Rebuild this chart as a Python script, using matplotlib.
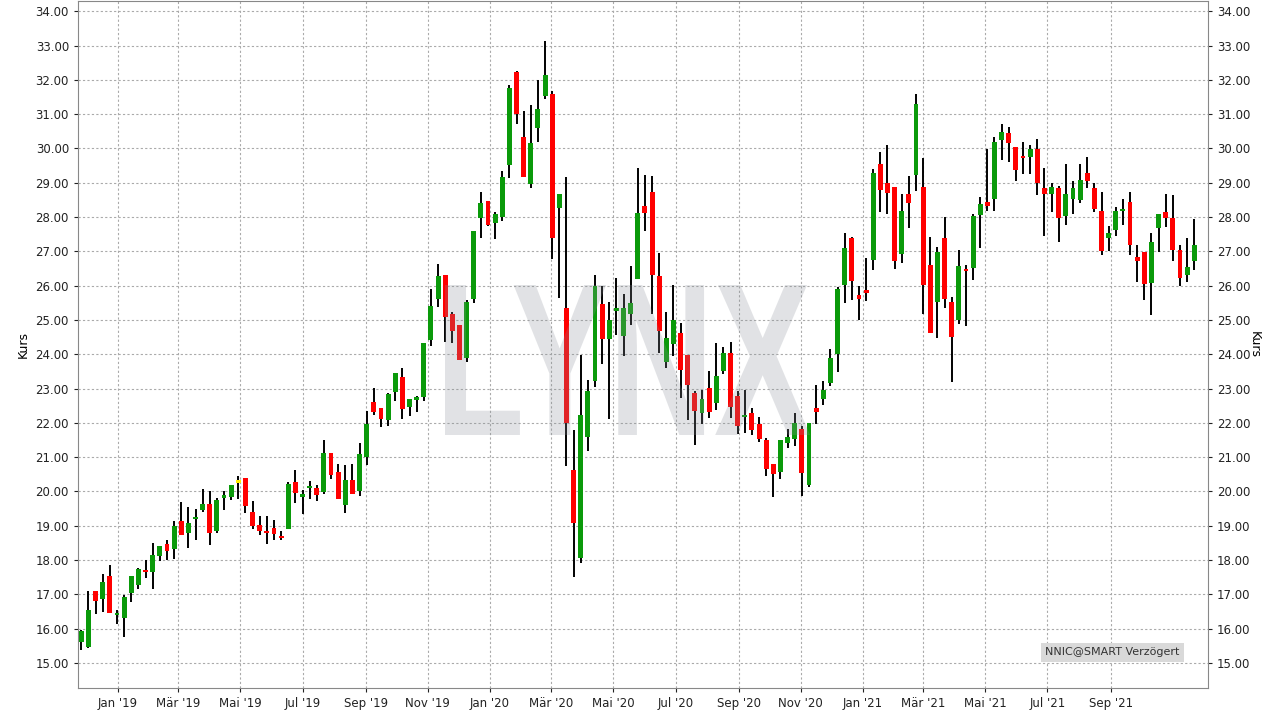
import numpy as np
import pandas as pd
import matplotlib

matplotlib.use("Agg")
import matplotlib.pyplot as plt
import matplotlib.dates as mdates
from matplotlib.textpath import TextPath
from matplotlib.patches import PathPatch
from matplotlib.font_manager import FontProperties
from matplotlib.transforms import Affine2D

# weekly candles, starting Monday 2018-11-26
first_week = "2018-11-26"
opens = [
    15.61, 15.47, 17.1, 16.86, 17.54, 16.4, 16.31, 17.05, 17.28, 17.71,
    17.66, 18.13, 18.47, 18.31, 19.15, 18.8, 19.21, 19.47, 19.64, 18.86,
    19.82, 19.85, 20.26, 20.4, 19.41, 19.03, 18.82, 18.94, 18.68, 18.92,
    20.29, 19.85, 20.1, 20.1, 19.99, 21.11, 20.56, 19.6, 20.33, 20.02,
    21.0, 22.62, 22.42, 22.07, 22.91, 23.35, 22.46, 22.66, 22.75, 24.43,
    25.6, 26.31, 25.18, 24.86, 23.88, 25.6, 27.96, 28.47, 27.84, 28.0,
    29.53, 32.22, 30.33, 28.95, 30.6, 31.54, 31.58, 28.27, 25.36, 20.62,
    18.05, 21.59, 23.22, 25.48, 24.44, 25.25, 24.53, 25.17, 26.19, 28.33,
    28.73, 26.29, 23.77, 24.29, 24.63, 23.99, 22.86, 22.29, 23.03, 22.58,
    23.51, 24.05, 22.79, 22.17, 22.28, 21.96, 21.5, 20.79, 20.56, 21.42,
    21.53, 21.81, 20.18, 22.44, 22.69, 23.16, 24.01, 26.01, 27.38, 25.74,
    25.86, 26.74, 29.55, 29.0, 28.89, 26.92, 28.68, 29.22, 28.89, 26.59,
    25.52, 27.4, 25.51, 25.01, 26.49, 26.51, 28.05, 28.45, 28.52, 30.26,
    30.46, 30.05, 29.76, 29.76, 29.98, 28.85, 28.68, 28.85, 28.03, 28.54,
    28.51, 29.28, 28.85, 28.18, 27.4, 27.61, 28.19, 28.44, 26.84, 26.99,
    26.09, 27.69, 28.15, 27.97, 27.04, 26.3, 26.71,
]
highs = [
    15.96, 17.1, 17.1, 17.6, 17.86, 16.54, 16.98, 17.54, 17.76, 18.0,
    18.5, 18.41, 18.59, 19.15, 19.68, 19.54, 19.5, 20.08, 20.02, 19.82,
    20.02, 20.2, 20.46, 20.4, 19.73, 19.29, 19.29, 19.18, 18.85, 20.27,
    20.64, 20.04, 20.3, 20.2, 21.49, 21.11, 20.79, 20.77, 20.79, 21.41,
    22.36, 23.03, 22.42, 22.87, 23.44, 23.61, 22.71, 22.77, 24.34, 25.9,
    26.62, 26.31, 25.24, 24.86, 25.58, 27.6, 28.74, 28.47, 28.15, 29.34,
    31.84, 32.25, 31.08, 31.27, 31.99, 33.12, 31.67, 28.68, 29.18, 21.79,
    23.97, 23.24, 26.32, 26.0, 25.52, 26.21, 25.75, 26.56, 29.43, 29.23,
    29.2, 26.94, 25.24, 26.03, 24.92, 23.99, 22.93, 22.95, 23.5, 24.32,
    24.22, 24.37, 22.93, 22.97, 22.42, 22.16, 21.56, 20.79, 21.5, 21.83,
    22.28, 21.92, 21.99, 23.09, 23.22, 24.14, 25.96, 27.55, 27.41, 25.98,
    26.8, 29.41, 29.91, 30.11, 28.89, 28.68, 29.21, 31.59, 29.71, 27.41,
    27.12, 27.99, 25.68, 27.05, 26.59, 28.1, 28.59, 29.99, 30.34, 30.7,
    30.63, 30.05, 30.19, 30.1, 30.27, 29.42, 28.99, 28.92, 29.54, 29.04,
    29.54, 29.75, 29.0, 28.73, 27.74, 28.28, 28.53, 28.73, 27.19, 26.99,
    27.54, 28.09, 28.67, 28.64, 27.19, 27.39, 27.95,
]
lows = [
    15.37, 15.45, 16.42, 16.48, 16.46, 16.13, 15.76, 16.78, 17.17, 17.49,
    17.17, 17.96, 17.99, 18.03, 18.72, 18.34, 18.59, 19.39, 18.45, 18.78,
    19.45, 19.76, 19.79, 19.37, 18.9, 18.74, 18.48, 18.59, 18.59, 18.92,
    19.65, 19.34, 19.78, 19.73, 19.94, 20.37, 19.79, 19.38, 19.92, 19.88,
    20.78, 22.23, 21.88, 21.9, 22.65, 22.11, 22.2, 22.31, 22.65, 24.25,
    25.39, 24.35, 24.32, 23.82, 23.77, 25.5, 27.39, 27.73, 27.35, 27.9,
    29.13, 30.7, 29.18, 28.84, 30.2, 31.45, 26.77, 25.63, 20.75, 17.51,
    17.9, 21.18, 23.06, 23.71, 22.12, 24.55, 23.95, 24.85, 26.19, 27.6,
    25.16, 24.05, 23.6, 23.94, 22.72, 22.08, 21.35, 21.97, 22.15, 22.37,
    23.43, 22.14, 21.68, 21.71, 21.64, 21.44, 20.46, 19.83, 20.35, 21.27,
    21.33, 19.88, 20.14, 21.96, 22.52, 23.08, 23.48, 25.49, 25.57, 25.01,
    25.55, 26.45, 28.16, 28.08, 26.48, 26.67, 27.67, 28.77, 25.18, 24.62,
    24.47, 25.36, 23.19, 24.88, 24.82, 26.18, 27.09, 28.17, 28.17, 29.67,
    29.61, 29.04, 29.26, 29.26, 28.65, 27.46, 28.16, 27.26, 27.78, 28.08,
    28.42, 28.86, 28.16, 26.88, 27.02, 27.46, 27.78, 26.88, 26.12, 25.57,
    25.14, 26.99, 27.72, 26.71, 26.0, 26.12, 26.47,
]
closes = [
    15.93, 16.54, 16.8, 17.36, 16.46, 16.45, 16.92, 17.54, 17.74, 17.66,
    18.15, 18.41, 18.25, 19.0, 18.72, 19.08, 19.25, 19.64, 18.78, 19.76,
    19.91, 20.2, 20.26, 19.57, 18.98, 18.86, 18.78, 18.75, 18.63, 20.23,
    19.95, 19.94, 20.16, 19.9, 21.11, 20.49, 19.79, 20.33, 19.92, 21.08,
    21.96, 22.31, 22.11, 22.83, 23.44, 22.39, 22.71, 22.74, 24.34, 25.41,
    26.28, 25.1, 24.67, 23.82, 25.53, 27.6, 28.4, 27.78, 28.1, 29.17,
    31.75, 31.0, 29.18, 30.16, 31.15, 32.14, 27.4, 28.68, 22.0, 19.08,
    22.22, 22.92, 26.0, 24.44, 25.01, 25.36, 25.36, 25.5, 28.12, 28.13,
    26.3, 24.69, 24.46, 25.0, 23.54, 23.1, 22.34, 22.71, 22.32, 23.38,
    24.05, 22.46, 21.91, 22.22, 21.79, 21.53, 20.65, 20.51, 21.5, 21.58,
    21.99, 20.53, 21.99, 22.32, 22.97, 23.88, 25.89, 27.09, 26.13, 25.61,
    25.78, 29.29, 28.8, 28.69, 26.72, 28.19, 28.4, 31.3, 26.01, 24.62,
    26.99, 25.61, 24.5, 26.56, 26.44, 28.04, 28.39, 28.31, 30.19, 30.49,
    30.15, 29.36, 29.71, 29.98, 29.0, 28.68, 28.88, 27.98, 28.67, 28.85,
    29.08, 29.05, 28.25, 27.0, 27.54, 28.18, 28.24, 27.2, 26.71, 26.04,
    27.28, 28.09, 27.98, 27.05, 26.23, 26.55, 27.19,
]
tick_months = pd.date_range("2019-01-01", "2021-09-01", freq="2MS")
month_names = {1: "Jan", 3: "Mär", 5: "Mai", 7: "Jul", 9: "Sep", 11: "Nov"}
tick_labels = [f"{month_names[d.month]} '{d.strftime('%y')}" for d in tick_months]
y_ticks = np.arange(15, 35, 1)

dates = pd.date_range(first_week, periods=len(opens), freq="7D")
xd = mdates.date2num(dates.to_pydatetime())
o, h, l, c = (np.array(a) for a in (opens, highs, lows, closes))
colors = np.where(c > o, "#0a9a0a", np.where(c < o, "#ff0000", "#ffee00"))

fig = plt.figure(figsize=(12.81, 7.21), dpi=100)
ax = fig.add_axes([78 / 1281, 33 / 721, 1130 / 1281, 687 / 721])

ax.vlines(xd, l, h, color="black", linewidth=1.4, zorder=2)
body = np.maximum(np.abs(c - o), 0.06)
ax.bar(xd, body, bottom=np.minimum(o, c), width=4.8, color=colors, linewidth=0, zorder=3)

ax.set_xlim(xd[0] - 3.3, xd[-1] + 13.5)
ax.set_ylim(14.27, 34.3)
ax.set_yticks(y_ticks)
ax.yaxis.set_major_formatter(matplotlib.ticker.FormatStrFormatter("%.2f"))
ax.set_xticks(mdates.date2num(tick_months.to_pydatetime()))
ax.set_xticklabels(tick_labels)
ax.tick_params(labelsize=8.5, colors="#222222", length=3, right=True, labelright=True)
ax.grid(True, linestyle=(0, (2, 2)), color="#aaaaaa", linewidth=0.8, zorder=0)
for s in ax.spines.values():
    s.set_color("#888888")
ax.set_ylabel("Kurs", fontsize=9)
ax2 = ax.secondary_yaxis("right")
ax2.set_yticks([])
ax2.set_ylabel("Kurs", fontsize=9, rotation=-90, labelpad=38)
ax2.spines["right"].set_visible(False)

# LYNX watermark, stretched into its box
tp = TextPath((0, 0), "LYNX", size=1, prop=FontProperties(family="Liberation Sans", weight="bold"))
ext = tp.get_extents()
x0, x1, y0, y1 = 445 / 1281, 810 / 1281, (721 - 435) / 721, (721 - 285) / 721
tr = Affine2D().translate(-ext.x0, -ext.y0).scale((x1 - x0) / ext.width, (y1 - y0) / ext.height).translate(x0, y0)
fig.patches.append(PathPatch(tr.transform_path(tp), transform=fig.transFigure,
                             facecolor="#8a8f99", edgecolor="none", alpha=0.25, zorder=5))

ax.text(0.975, 0.052, "NNIC@SMART Verzögert", transform=ax.transAxes, ha="right", va="center",
        fontsize=8, color="#333333", zorder=6,
        bbox=dict(boxstyle="square,pad=0.4", facecolor="#d9d9d9", edgecolor="none"))

fig.savefig("out.png", dpi=100)
